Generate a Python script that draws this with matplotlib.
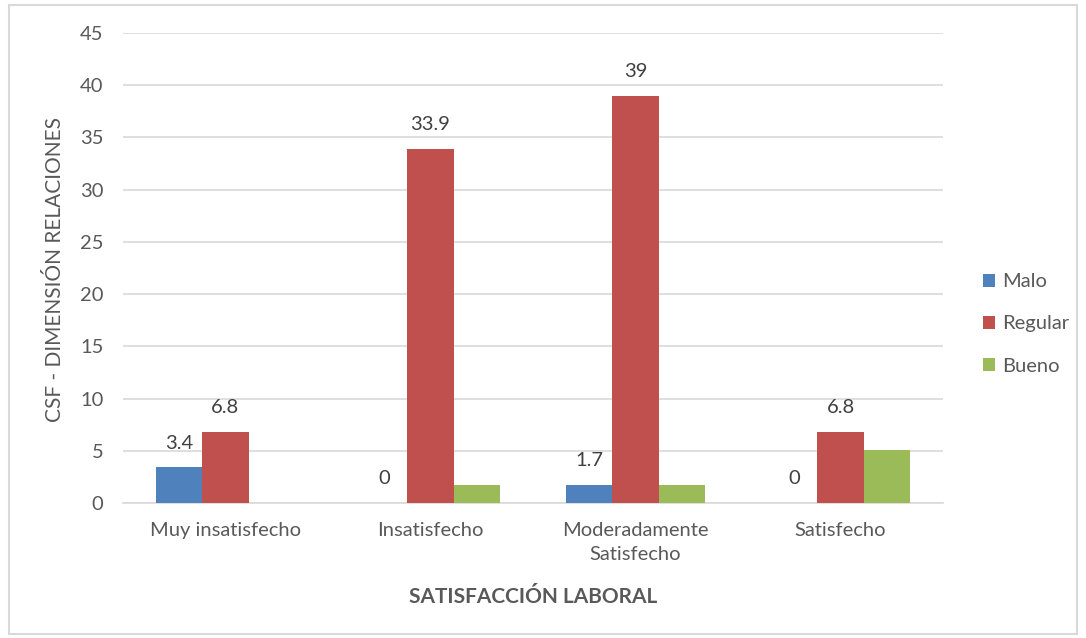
import matplotlib.pyplot as plt
import numpy as np
from matplotlib.patches import Rectangle

plt.rcParams['font.family'] = ['Lato', 'DejaVu Sans']

categories = ['Muy insatisfecho', 'Insatisfecho', 'Moderadamente\nSatisfecho', 'Satisfecho']
series_names = ['Malo', 'Regular', 'Bueno']
malo = [3.4, 0, 1.7, 0]
regular = [6.8, 33.9, 39, 6.8]
bueno = [0, 1.7, 1.7, 5.1]
colors = ['#4F81BD', '#C0504D', '#9BBB59']
text_color = '#595959'
label_color = '#404040'
fs = 14.5

fig = plt.figure(figsize=(10.86, 6.38), dpi=100)
ax = fig.add_axes([123 / 1086, 1 - 503 / 638, 820 / 1086, 470 / 638])

# light frame around the whole chart
fig.patches.append(Rectangle((9 / 1086, 1 - 634 / 638), 1068 / 1086, 629 / 638,
                             transform=fig.transFigure, fill=False,
                             edgecolor='#D9D9D9', linewidth=1.5))

x = np.arange(len(categories))
width = 0.2245
all_values = [malo, regular, bueno]
for i, (vals, name, col) in enumerate(zip(all_values, series_names, colors)):
    pos = x + (i - 1) * width
    bars = ax.bar(pos, vals, width, color=col, label=name, zorder=3)
    # only Malo and Regular carry data labels in the original
    if i < 2:
        for b, v in zip(bars, vals):
            ax.annotate(f'{v:g}', (b.get_x() + b.get_width() / 2, v),
                        xytext=(0, 17.5), textcoords='offset points',
                        ha='center', va='center', fontsize=fs, color=label_color)

ax.set_xlim(-0.5, len(categories) - 0.5)
ax.set_ylim(0, 45)
ax.set_yticks(np.arange(0, 46, 5))
ax.set_xticks(x)
ax.set_xticklabels(categories, linespacing=1.45)
ax.tick_params(axis='both', length=0, labelsize=fs, labelcolor=text_color)
ax.tick_params(axis='y', pad=14)
ax.tick_params(axis='x', pad=14)
ax.grid(axis='y', color='#D9D9D9', linewidth=1.2, zorder=0)
for s in ['top', 'right', 'left']:
    ax.spines[s].set_visible(False)
ax.spines['bottom'].set_color('#D9D9D9')
ax.spines['bottom'].set_linewidth(1.2)

ax.set_ylabel('CSF - DIMENSIÓN RELACIONES', fontsize=15, color=text_color, va='center')
ax.yaxis.set_label_coords(-68 / 820, 0.497)
fig.text(533 / 1086, 1 - 597 / 638, 'SATISFACCIÓN LABORAL', ha='center', va='center',
         fontsize=15, fontweight='bold', color=text_color)

ax.legend(loc='center left', bbox_to_anchor=(1.027, 0.381), frameon=False,
          fontsize=fs, labelcolor=text_color, handlelength=0.6, handleheight=0.6,
          handletextpad=0.35, labelspacing=1.25)

fig.savefig('out.png', dpi=100)
